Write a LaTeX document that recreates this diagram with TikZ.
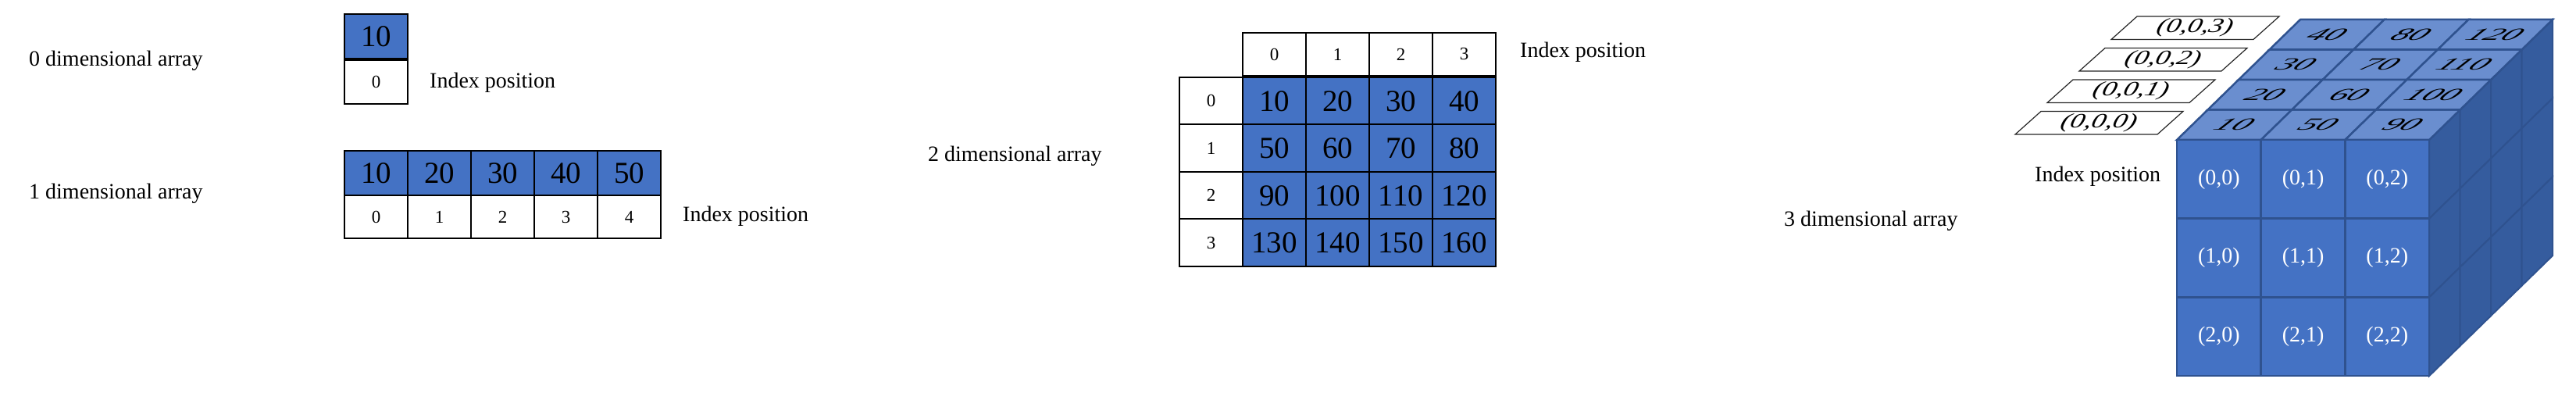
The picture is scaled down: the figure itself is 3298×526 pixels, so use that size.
\documentclass[tikz,border=0pt]{standalone}
\usepackage{fontspec}
\setmainfont{Liberation Serif}
\definecolor{cellblue}{HTML}{4472C4}
\definecolor{topblue}{HTML}{6A8ECF}
\definecolor{sideblue}{HTML}{355C9E}
\definecolor{edgeblue}{HTML}{2F528F}
\begin{document}
\begin{tikzpicture}[x=1pt,y=-1pt,
  lbl/.style={font=\fontsize{28}{32}\selectfont, anchor=base west, inner sep=0},
  valcell/.style={draw=black, line width=2pt, fill=cellblue, minimum width=81pt, minimum height=57pt, inner sep=0, font=\fontsize{39}{42}\selectfont},
  idxcell/.style={draw=black, line width=2pt, fill=white, minimum width=81pt, minimum height=56pt, inner sep=0, font=\fontsize{23}{26}\selectfont},
  frontcube/.style={draw=edgeblue, line width=2.5pt, fill=cellblue, minimum width=107.7pt, minimum height=100.7pt, inner sep=0, text=white, font=\fontsize{28}{32}\selectfont},
  topface/.style={draw=edgeblue, line width=2.5pt, fill=topblue},
  sideface/.style={draw=edgeblue, line width=2pt, fill=sideblue},
  topnum/.style={font=\itshape\fontsize{28}{32}\selectfont, xscale=1.6, yscale=0.78, xslant=0.45, inner sep=0},
  plab/.style={draw=black!85, line width=1.2pt, fill=white},
  labnum/.style={font=\itshape\fontsize{26}{30}\selectfont, xscale=1.4, xslant=0.2, inner sep=0}
]
\useasboundingbox (0,0) rectangle (3298,526);

% ---------- 0 dimensional ----------
\node[lbl] (l0) at (37,85) {0 dimensional array};
\node[valcell] (z0) at (481.5,46.5) {10};
\node[idxcell] (zi0) at (481.5,105) {0};
\node[lbl] (ip0) at (550,113) {Index position};

% ---------- 1 dimensional ----------
\node[lbl] (l1) at (37,255) {1 dimensional array};
\foreach \i/\v in {0/10,1/20,2/30,3/40,4/50}{
  \node[valcell, minimum height=57pt] (o\i) at (481.5+81*\i,221.5) {\v};
  \node[idxcell, minimum height=55pt] (oi\i) at (481.5+81*\i,277.5) {\i};
}
\node[lbl] (ip1) at (874,284) {Index position};

% ---------- 2 dimensional ----------
\node[lbl] (l2) at (1188,207) {2 dimensional array};
\foreach \c in {0,1,2,3}{
  \node[idxcell, minimum height=55pt] (h\c) at (1631.5+81*\c,69.5) {\c};
}
\foreach \r in {0,1,2,3}{
  \node[idxcell, minimum height=60.5pt] (ri\r) at (1550.5,129.25+60.5*\r) {\r};
  \foreach \c in {0,1,2,3}{
    \pgfmathtruncatemacro\v{10*(1+\c+4*\r)}
    \node[valcell, minimum height=60.5pt] (t\r\c) at (1631.5+81*\c,129.25+60.5*\r) {\v};
  }
}
\node[lbl] (ip2) at (1946,74) {Index position};

% ---------- 3 dimensional ----------
\node[lbl] (l3) at (2284,290) {3 dimensional array};
\node[lbl] (ip3) at (2605,233) {Index position};

\def\Xo{2787}\def\Yo{179}\def\cw{107.7}\def\ch{100.7}\def\ddx{39.5}\def\ddy{-38.5}

% side faces
\foreach \r in {0,1,2}{
  \foreach \d in {0,1,2,3}{
    \pgfmathsetmacro\xa{\Xo+3*\cw+\d*\ddx}
    \pgfmathsetmacro\ya{\Yo+\r*\ch+\d*\ddy}
    \filldraw[sideface] (\xa,\ya) -- ++(\ddx,\ddy) -- ++(0,\ch) -- ++(-\ddx,-\ddy) -- cycle;
  }
}
% top faces
\foreach \c in {0,1,2}{
  \foreach \d in {0,1,2,3}{
    \pgfmathsetmacro\xa{\Xo+\c*\cw+\d*\ddx}
    \pgfmathsetmacro\ya{\Yo+\d*\ddy}
    \filldraw[topface] (\xa,\ya) -- ++(\cw,0) -- ++(\ddx,\ddy) -- ++(-\cw,0) -- cycle;
    \pgfmathtruncatemacro\v{10*(1+\d+4*\c)}
    \node[topnum] (tp\c\d) at (\xa+0.5*\cw+0.5*\ddx,\ya+0.5*\ddy) {\v};
  }
}
% front faces
\foreach \r in {0,1,2}{
  \foreach \c in {0,1,2}{
    \node[frontcube] (f\r\c) at (\Xo+\c*\cw+0.5*\cw,\Yo+\r*\ch+0.5*\ch) {(\r,\c)};
  }
}
% index labels
\foreach \d in {0,1,2,3}{
  \pgfmathsetmacro\bx{2580+41*\d}
  \pgfmathsetmacro\by{172-40.5*\d}
  \draw[plab] (\bx,\by) -- ++(182,0) -- ++(33,-29.5) -- ++(-182,0) -- cycle;
  \node[labnum] (pl\d) at (\bx+107,\by-15) {(0,0,\d)};
}
\end{tikzpicture}
\end{document}
